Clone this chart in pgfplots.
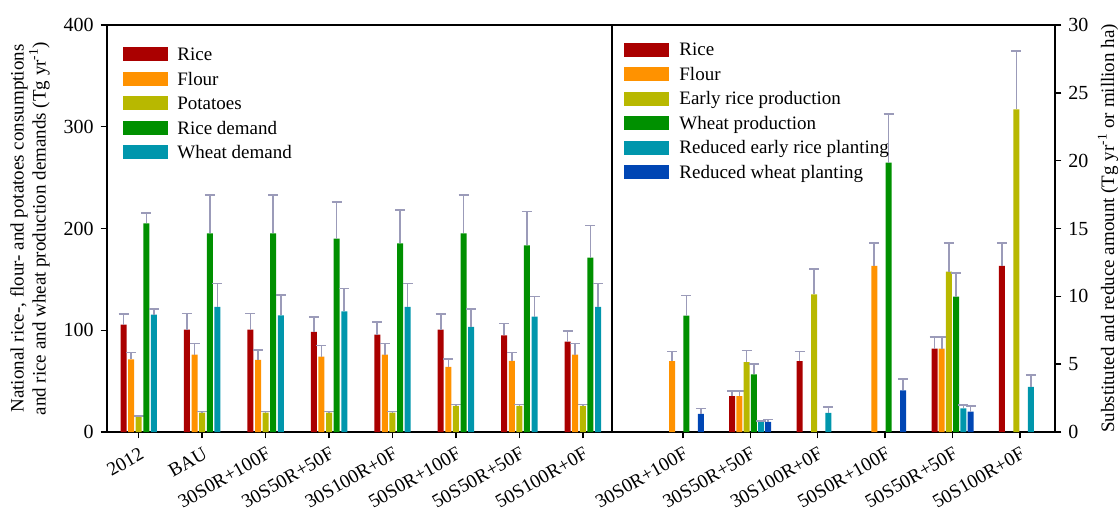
\documentclass[border=0pt]{standalone}
\usepackage{fontspec}
\setmainfont{Liberation Serif}
\usepackage{pgfplots}
\usepackage{pgfplotstable}
\pgfplotsset{compat=1.18}

\definecolor{cRice}{RGB}{170,0,0}
\definecolor{cFlour}{RGB}{255,146,0}
\definecolor{cPot}{RGB}{184,184,0}
\definecolor{cGreen}{RGB}{0,144,0}
\definecolor{cTeal}{RGB}{0,150,172}
\definecolor{cBlue}{RGB}{0,70,180}
\definecolor{errc}{RGB}{155,155,185}

\pgfplotstableread{
x rice riceE flour flourE pot potE rd rdE wd wdE
0 105.5 10.5 71.4 6.6 15.0 0.6 205.0 10.0 115.4 5.2
1 100.6 16.0 76.0 11.0 19.0 1.0 195.3 37.7 122.9 23.1
2 100.6 16.0 70.8 9.8 19.0 1.0 195.3 37.7 114.7 19.9
3 98.3 14.7 74.0 11.2 19.0 1.0 190.0 36.0 118.6 22.4
4 95.7 12.3 76.0 11.0 19.0 1.0 185.5 32.5 123.0 23.0
5 100.6 15.4 64.0 7.8 25.6 1.4 195.3 37.7 103.2 17.8
6 95.0 11.8 70.0 8.3 25.6 1.4 183.5 33.1 113.4 19.6
7 88.8 10.5 76.0 11.0 25.6 1.4 171.4 31.6 123.0 23.0
}\leftdata

\pgfplotsset{
  legbox/.style={legend image code/.code={\fill[##1, draw=none] (0pt,-2.6pt) rectangle (22.5pt,4.4pt);}},
  common/.style={
    scale only axis, height=203.5pt,
    bar width=3pt,
    axis line style={line width=0.7pt, black},
    tick style={line width=0.7pt, black},
    tick align=outside, major tick length=3.2pt,
    tick label style={font=\fontsize{10}{12}\selectfont},
    /pgf/number format/assume math mode=true,
    xtick pos=lower,
    xticklabel shift=3.8pt,
    xticklabel style={rotate=30, anchor=north east, inner sep=0pt, font=\fontsize{9.6}{11}\selectfont},
    ymin=0,
    error bars/y dir=plus, error bars/y explicit,
    error bars/error mark=-,
    error bars/error bar style={draw=errc, line width=0.8pt},
    error bars/error mark options={rotate=90, draw=errc, mark size=2.5pt, line width=0.8pt},
    legend style={draw=none, fill=none, font=\fontsize{9.5}{11}\selectfont,
      anchor=north west, inner sep=0pt, cells={anchor=west},
      nodes={inner sep=0pt, text height=6.5pt, text depth=2pt},
      row sep=3.6pt},
  }
}

\begin{document}
\begin{tikzpicture}
\useasboundingbox (0,0) rectangle (560pt,255pt);
% left panel
\begin{axis}[common,
  at={(53.5pt,39pt)}, anchor=south west,
  width=252.5pt,
  ybar=0.8pt,
  xmin=-0.5, xmax=7.46, ymax=400,
  ytick={0,100,200,300,400}, ytick pos=lower,
  xtick={0,1,2,3,4,5,6,7},
  xticklabels={2012,BAU,30S0R+100F,30S50R+50F,30S100R+0F,50S0R+100F,50S50R+50F,50S100R+0F},
  ylabel={National rice-, flour- and potatoes consumptions\\and rice and wheat production demands (Tg yr\textsuperscript{-1})},
  every axis y label/.style={at={(axis description cs:-0.1525,0.5)}, rotate=90, anchor=center, align=center, font=\fontsize{9.5}{11}\selectfont},
  legend style={at={(axis description cs:0.0317,0.946)}, column sep=4.5pt},
]
\addplot[fill=cRice, draw=none, legbox] table[x=x, y=rice, y error plus=riceE] {\leftdata};
\addlegendentry{Rice}
\addplot[fill=cFlour, draw=none, legbox] table[x=x, y=flour, y error plus=flourE] {\leftdata};
\addlegendentry{Flour}
\addplot[fill=cPot, draw=none, legbox] table[x=x, y=pot, y error plus=potE] {\leftdata};
\addlegendentry{Potatoes}
\addplot[fill=cGreen, draw=none, legbox] table[x=x, y=rd, y error plus=rdE] {\leftdata};
\addlegendentry{Rice demand}
\addplot[fill=cTeal, draw=none, legbox] table[x=x, y=wd, y error plus=wdE] {\leftdata};
\addlegendentry{Wheat demand}
\end{axis}
% right panel
\begin{axis}[common,
  at={(306pt,39pt)}, anchor=south west,
  width=221.5pt,
  ybar=0.6pt,
  xmin=-1.05, xmax=5.52, ymax=30,
  ytick={0,5,10,15,20,25,30}, ytick pos=upper, yticklabel pos=upper,
  xtick={0,1,2,3,4,5},
  xticklabels={30S0R+100F,30S50R+50F,30S100R+0F,50S0R+100F,50S50R+50F,50S100R+0F},
  ylabel={Substituted and reduce amount (Tg yr\textsuperscript{-1} or million ha)},
  every axis y label/.style={at={(axis description cs:1.1196,0.5)}, rotate=90, anchor=center, font=\fontsize{9.5}{11}\selectfont},
  legend style={at={(axis description cs:0.0271,0.958)}, column sep=5pt},
]
\addplot[fill=cRice, draw=none, legbox] coordinates {
  (1,2.64) +- (0,0.40)
  (2,5.23) +- (0,0.70)
  (4,6.15) +- (0,0.85)
  (5,12.25) +- (0,1.68)
};
\addlegendentry{Rice}
\addplot[fill=cFlour, draw=none, legbox] coordinates {
  (0,5.23) +- (0,0.70)
  (1,2.64) +- (0,0.40)
  (3,12.25) +- (0,1.68)
  (4,6.15) +- (0,0.85)
};
\addlegendentry{Flour}
\addplot[fill=cPot, draw=none, legbox] coordinates {
  (1,5.16) +- (0,0.84)
  (2,10.15) +- (0,1.85)
  (4,11.83) +- (0,2.10)
  (5,23.78) +- (0,4.29)
};
\addlegendentry{Early rice production}
\addplot[fill=cGreen, draw=none, legbox] coordinates {
  (0,8.57) +- (0,1.48)
  (1,4.25) +- (0,0.75)
  (3,19.85) +- (0,3.61)
  (4,9.97) +- (0,1.73)
};
\addlegendentry{Wheat production}
\addplot[fill=cTeal, draw=none, legbox] coordinates {
  (1,0.76) +- (0,0.07)
  (2,1.41) +- (0,0.42)
  (4,1.75) +- (0,0.25)
  (5,3.33) +- (0,0.89)
};
\addlegendentry{Reduced early rice planting}
\addplot[fill=cBlue, draw=none, legbox] coordinates {
  (0,1.33) +- (0,0.40)
  (1,0.74) +- (0,0.17)
  (3,3.06) +- (0,0.84)
  (4,1.50) +- (0,0.40)
};
\addlegendentry{Reduced wheat planting}
\end{axis}
\end{tikzpicture}
\end{document}
